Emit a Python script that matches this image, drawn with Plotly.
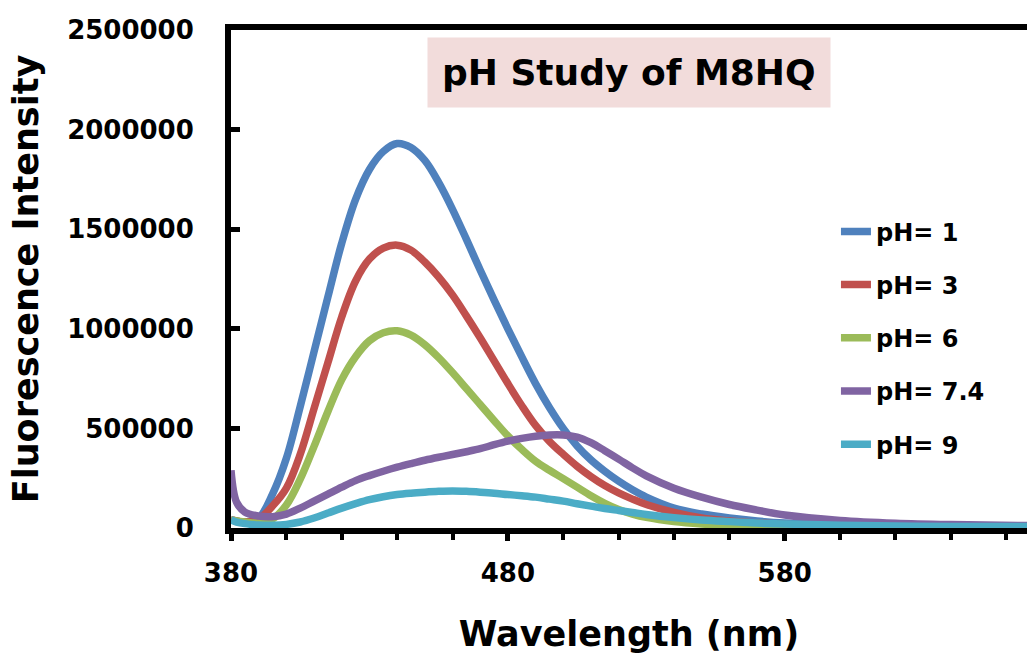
import plotly.graph_objects as go

# Wavelength (nm) sample points
wavelength = [380, 382, 385, 390, 395, 400, 405, 410, 415, 420, 425, 430, 435, 440, 445,
              450, 455, 460, 465, 470, 475, 480, 485, 490, 495, 500, 505, 510, 515, 520,
              525, 530, 540, 550, 560, 570, 580, 600, 620, 640, 668]

ph1 = [40000, 35000, 30000, 50000, 170000, 350000, 610000, 885000, 1160000, 1430000,
       1650000, 1800000, 1890000, 1930000, 1910000, 1845000, 1735000, 1600000, 1450000,
       1295000, 1145000, 1000000, 860000, 725000, 605000, 500000, 412000, 342000, 285000,
       235000, 192000, 155000, 100000, 70000, 50000, 35000, 25000, 15000, 10000, 7000, 5000]

ph3 = [40000, 35000, 30000, 45000, 110000, 200000, 370000, 600000, 830000, 1060000,
       1240000, 1350000, 1405000, 1420000, 1395000, 1335000, 1260000, 1170000, 1065000,
       955000, 840000, 725000, 615000, 515000, 435000, 370000, 310000, 258000, 213000,
       176000, 145000, 118000, 78000, 50000, 35000, 25000, 18000, 10000, 7000, 5000, 3000]

ph6 = [40000, 35000, 30000, 25000, 45000, 115000, 245000, 410000, 585000, 745000,
       860000, 940000, 980000, 990000, 968000, 920000, 855000, 780000, 700000, 620000,
       540000, 462000, 395000, 335000, 290000, 248000, 205000, 162000, 124000, 93000,
       70000, 53000, 32000, 20000, 13000, 9000, 6000, 4000, 3000, 2000, 2000]

ph74 = [290000, 130000, 80000, 60000, 57000, 70000, 100000, 135000, 170000, 205000,
        238000, 263000, 285000, 305000, 323000, 340000, 355000, 369000, 383000, 398000,
        418000, 436000, 450000, 461000, 467000, 467000, 456000, 428000, 388000, 346000,
        302000, 262000, 200000, 155000, 118000, 90000, 65000, 38000, 24000, 17000, 12000]

ph9 = [40000, 30000, 22000, 15000, 14000, 18000, 30000, 50000, 75000, 100000,
       122000, 142000, 157000, 168000, 175000, 180000, 184000, 186000, 184000, 180000,
       175000, 168000, 162000, 155000, 145000, 135000, 122000, 110000, 98000, 88000,
       78000, 68000, 52000, 40000, 32000, 25000, 20000, 14000, 10000, 8000, 7000]

series_names = ["pH= 1", "pH= 3", "pH= 6", "pH= 7.4", "pH= 9"]
series_values = [ph1, ph3, ph6, ph74, ph9]
colors = ["#4f81bd", "#c0504d", "#9bbb59", "#8064a2", "#4bacc6"]

x_tickvals = [380, 480, 580]
y_tickvals = [0, 500000, 1000000, 1500000, 2000000, 2500000]
y_ticktext = ["0", "500000", "1000000", "1500000", "2000000", "2500000"]

FONT = "DejaVu Sans"

fig = go.Figure()
for i, (name, vals, col) in enumerate(zip(series_names, series_values, colors)):
    fig.add_trace(go.Scatter(
        x=wavelength, y=vals, name=name, mode="lines",
        line=dict(color=col, width=7.5, shape="spline", smoothing=1.0),
        legendgroup=f"g{i}",
    ))

fig.update_layout(
    width=1027, height=658,
    margin=dict(l=231, r=0, t=30, b=130),
    paper_bgcolor="white", plot_bgcolor="white",
    font=dict(family=FONT, color="black"),
    legend=dict(
        x=0.76, y=0.64, xanchor="left", yanchor="top",
        bgcolor="rgba(0,0,0,0)",
        font=dict(family=FONT, size=24, weight="bold", color="black"),
        traceorder="grouped", tracegroupgap=19,
    ),
    annotations=[dict(
        text="<b>pH Study of M8HQ</b>", xref="paper", yref="paper",
        x=0.5, y=0.986, xanchor="center", yanchor="top", showarrow=False,
        font=dict(family=FONT, size=36, color="black"),
        bgcolor="#f2dcdb", borderpad=14,
    )],
)

fig.update_xaxes(
    range=[380, 667.5],
    tickvals=x_tickvals, ticktext=[str(v) for v in x_tickvals],
    showgrid=False, zeroline=False,
    showline=True, linecolor="black", linewidth=6, mirror=True,
    ticks="outside", ticklen=7, tickwidth=5, tickcolor="black",
    minor=dict(dtick=20, tick0=380, ticks="outside", ticklen=6, tickwidth=4, tickcolor="black"),
    tickfont=dict(family=FONT, size=26, weight="bold"),
    ticklabelstandoff=10,
    title=dict(text="<b>Wavelength (nm)</b>", font=dict(family=FONT, size=35), standoff=36),
)
fig.update_yaxes(
    range=[0, 2500000],
    tickvals=y_tickvals, ticktext=y_ticktext,
    showgrid=False, zeroline=False,
    showline=True, linecolor="black", linewidth=6, mirror=False,
    ticks="inside", ticklen=9, tickwidth=5, tickcolor="black",
    tickfont=dict(family=FONT, size=26, weight="bold"),
    ticklabelstandoff=26,
    title=dict(text="<b>Fluorescence Intensity</b>", font=dict(family=FONT, size=35), standoff=20),
)

fig.write_html("out.html")
